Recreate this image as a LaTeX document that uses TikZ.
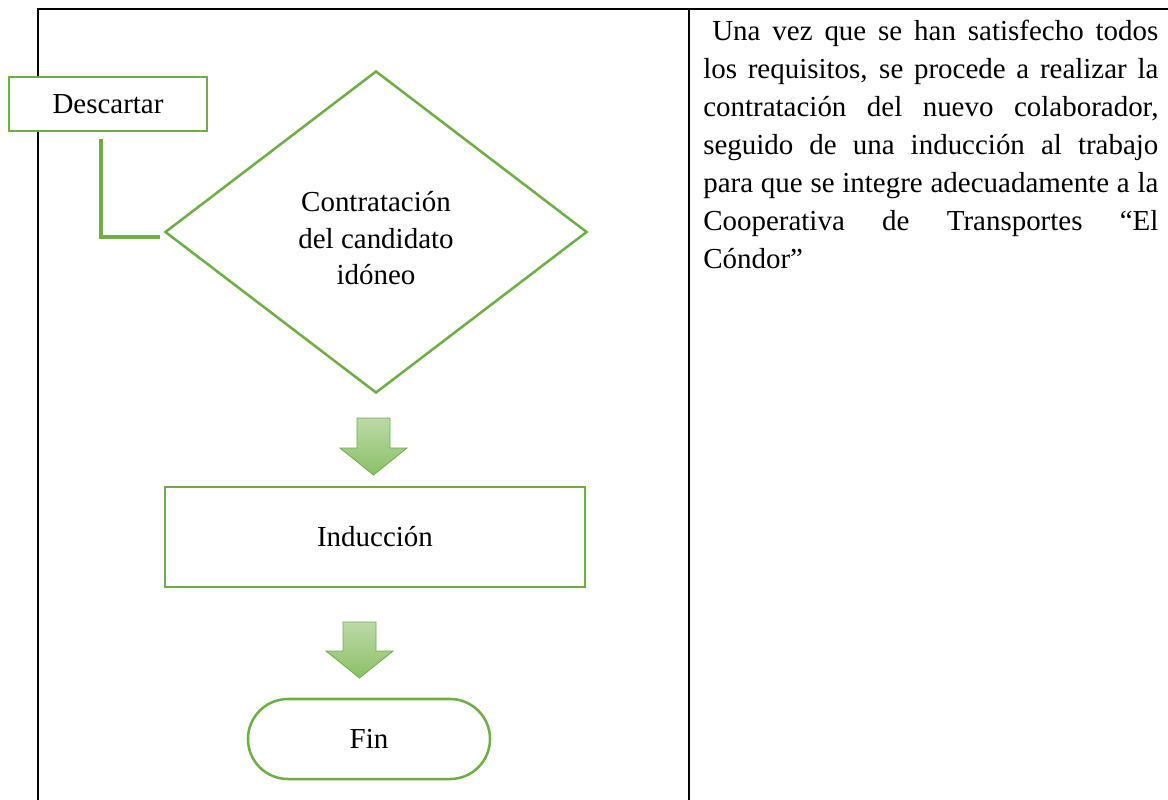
\documentclass[tikz,border=0pt]{standalone}
\usepackage{fontspec}
\setmainfont{Liberation Serif}
\usepackage{xcolor}
\usetikzlibrary{positioning, shapes.geometric, calc}

\definecolor{verde}{HTML}{70AD47}
\definecolor{verdeclaro}{HTML}{BBDAA7}
\definecolor{verdeoscuro}{HTML}{8CC068}

\begin{document}
\begin{tikzpicture}[
    x=0.025cm, y=-0.025cm,
    every node/.style={font=\fontsize{20.6}{27}\selectfont},
    caja/.style={
        rectangle,
        draw=verde,
        line width=1.8pt,
        fill=white,
        align=center,
        inner sep=0pt
    },
    rombo/.style={
        diamond,
        draw=verde,
        line width=1.8pt,
        align=center,
        inner sep=0pt,
        minimum width=10.55cm,
        minimum height=8.05cm,
        font=\fontsize{20.6}{26}\selectfont
    },
    final/.style={caja, rounded corners=1cm, minimum width=6.05cm, minimum height=2cm},
    conector/.style={draw=verde, line width=2.2pt},
    flecha/.style={draw=verde, line width=0.6pt, top color=verdeclaro, bottom color=verdeoscuro},
    tabla/.style={line width=1.5pt, black}
]

\useasboundingbox (0,0) rectangle (1168,800);

% tabla
\draw[tabla] (38,800) -- (38,9) -- (1168,9);
\draw[tabla] (689,9) -- (689,800);

% diagrama
\node[rombo] (contrata) at (376,232) {\rule{0pt}{23pt}Contratación\\del candidato\\idóneo};
\node[caja, minimum width=4.95cm, minimum height=1.35cm] (descartar) at (108,104) {Descartar};
\node[caja, minimum width=10.5cm, minimum height=2.5cm] (induccion) at (375,537) {Inducción};
\node[final] (fin) at (369,739) {Fin};

\draw[conector] ($(contrata.west)+(-4,5)$) -| ($(descartar.south)+(-7,7)$);

% flechas de bloque
\coordinate (f1) at (373.5,418);
\coordinate (f2) at (359.5,622);
\shade[flecha] (f1) ++(-16.5,0) -- ++(33,0) -- ++(0,30) -- ++(17,0) -- ++(-33.5,27) -- ++(-33.5,-27) -- ++(17,0) -- cycle;
\shade[flecha] (f2) ++(-16.5,0) -- ++(33,0) -- ++(0,29) -- ++(17,0) -- ++(-33.5,27) -- ++(-33.5,-27) -- ++(17,0) -- cycle;

% descripcion
\node[anchor=north west, text width=11.375cm, align=justify, inner sep=0pt] (texto) at (703,20)
    {\tolerance=9999\hspace*{6.4pt}Una vez que se han satisfecho todos\linebreak
     los requisitos, se procede a realizar la\linebreak
     contratación del nuevo colaborador,\linebreak
     seguido de una inducción al trabajo\linebreak
     para que se integre adecuadamente a la\linebreak
     Cooperativa de Transportes “El\linebreak
     Cóndor”};

\end{tikzpicture}
\end{document}
